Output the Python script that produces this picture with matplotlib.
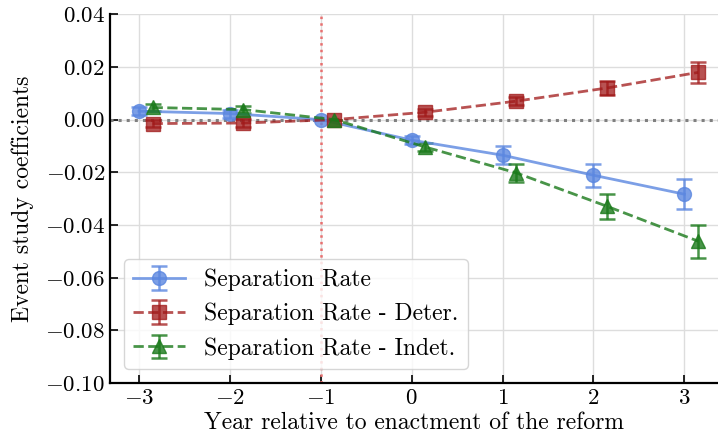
import numpy as np
import matplotlib
matplotlib.use('Agg')
import matplotlib.pyplot as plt

plt.rcParams['font.family'] = 'serif'
plt.rcParams['font.serif'] = ['cmr10']
plt.rcParams['mathtext.fontset'] = 'cm'
plt.rcParams['axes.formatter.use_mathtext'] = True
plt.rcParams['axes.unicode_minus'] = True

# event-time and coefficients
years = np.array([-3, -2, -1, 0, 1, 2, 3])

sep_rate = np.array([0.0032, 0.0023, 0.0, -0.0078, -0.0135, -0.0211, -0.0283])
sep_rate_err = np.array([0.0016, 0.0015, 0.0, 0.0015, 0.0035, 0.0044, 0.0057])

sep_deter = np.array([-0.0015, -0.0013, 0.0, 0.0028, 0.0070, 0.0120, 0.0179])
sep_deter_err = np.array([0.0014, 0.0014, 0.0, 0.0014, 0.0015, 0.0025, 0.0040])

sep_indet = np.array([0.0046, 0.0038, 0.0, -0.0104, -0.0202, -0.0329, -0.0461])
sep_indet_err = np.array([0.0015, 0.0014, 0.0, 0.0015, 0.0035, 0.0048, 0.0063])

labels = ['Separation Rate', 'Separation Rate - Deter.', 'Separation Rate - Indet.']

fig, ax = plt.subplots(figsize=(7.18, 4.43), dpi=100)
fig.subplots_adjust(left=0.153, right=1.0, bottom=0.135, top=0.968)

shift = 0.15
kw = dict(lw=2, ms=10, capsize=6, elinewidth=1.8, capthick=1.8, zorder=3)
ax.errorbar(years, sep_rate, yerr=sep_rate_err, fmt='-o', color='#5b87e0', alpha=0.8,
            label=labels[0], **kw)
ax.errorbar(years + shift, sep_deter, yerr=sep_deter_err, fmt='--s', color='#a01818', alpha=0.75,
            label=labels[1], **kw)
ax.errorbar(years + shift, sep_indet, yerr=sep_indet_err, fmt='--^', color='#1a7a1a', alpha=0.8,
            label=labels[2], **kw)

ax.axhline(0, color='gray', ls=':', lw=2.2, zorder=2)
ax.axvline(-1, color='#e87070', ls=':', lw=1.8, zorder=2)

ax.set_xlim(-3.32, 3.37)
ax.set_ylim(-0.10, 0.04)
ax.set_yticks(np.arange(-0.10, 0.041, 0.02))
ax.set_xticks(years)
ax.grid(True, color='#dddddd', lw=1)
ax.set_axisbelow(True)

for s in ['top', 'right']:
    ax.spines[s].set_visible(False)
for s in ['left', 'bottom']:
    ax.spines[s].set_linewidth(1.6)
ax.tick_params(direction='in', length=6, width=1.2, labelsize=16.5)

ax.set_xlabel('Year relative to enactment of the reform', fontsize=17, labelpad=3)
ax.set_ylabel('Event study coefficients', fontsize=17, labelpad=8)

ax.legend(loc='lower left', fontsize=17, handlelength=2.2, borderaxespad=0.6,
          framealpha=0.8, edgecolor='#cccccc')

plt.savefig('out.png', dpi=100)
